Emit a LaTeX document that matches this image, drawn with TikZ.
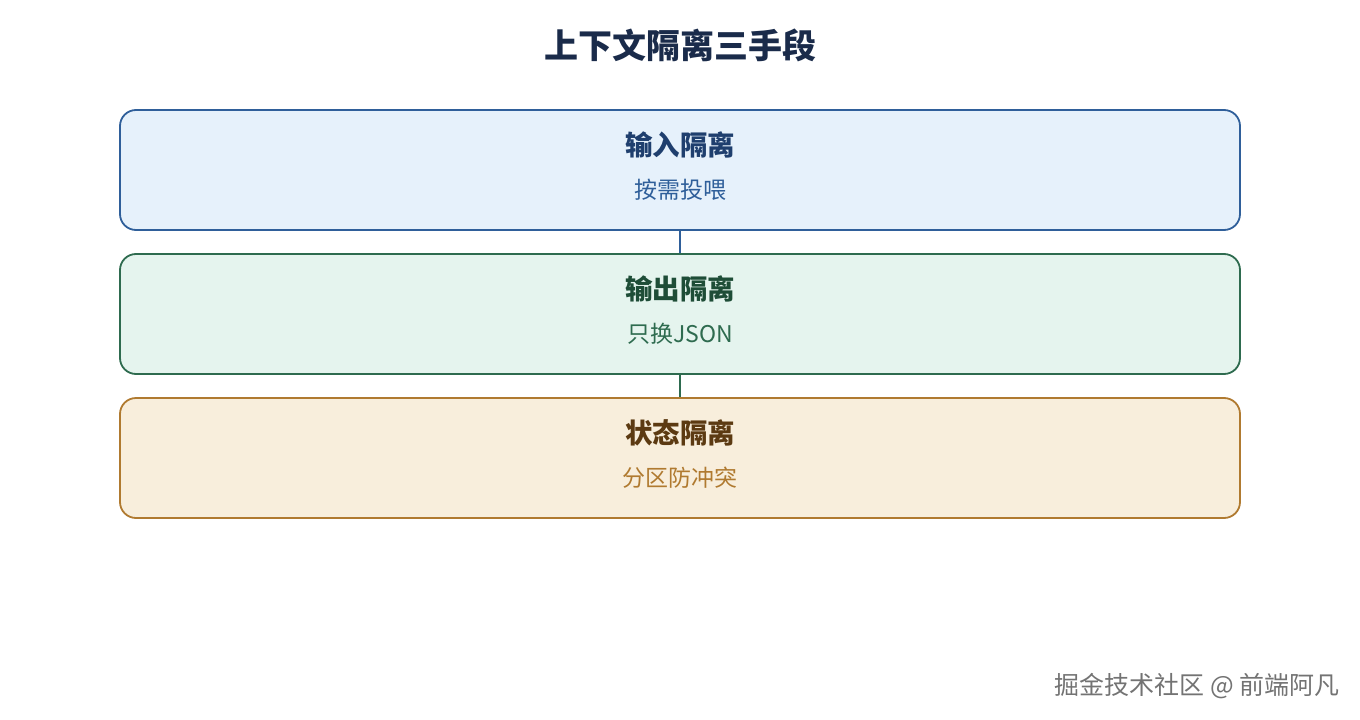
\documentclass[tikz,border=0pt]{standalone}
\usepackage{fontspec}
\setmainfont{Noto Sans CJK SC}
\definecolor{bgA}{HTML}{E6F1FB}\definecolor{bdA}{HTML}{2F5F9A}\definecolor{tA}{HTML}{1F3F6E}\definecolor{sA}{HTML}{2F5F9A}
\definecolor{bgB}{HTML}{E5F4EE}\definecolor{bdB}{HTML}{2E6B4F}\definecolor{tB}{HTML}{1E4D37}\definecolor{sB}{HTML}{2E6B4F}
\definecolor{bgC}{HTML}{F8EEDC}\definecolor{bdC}{HTML}{B07A30}\definecolor{tC}{HTML}{5C3A12}\definecolor{sC}{HTML}{B07A30}
\definecolor{titlec}{HTML}{1A2B4A}
\tikzset{
  card/.style={draw, line width=1.8pt, rounded corners=16pt, minimum width=1120pt, minimum height=120pt, inner sep=0pt},
  cardtitle/.style={font=\fontsize{27.5}{31}\selectfont\bfseries, inner sep=0pt},
  cardsub/.style={font=\fontsize{23}{27}\selectfont, inner sep=0pt},
  link/.style={line width=1.8pt}
}
\begin{document}
\begin{tikzpicture}[x=1pt,y=-1pt]
\useasboundingbox (0,0) rectangle (1360,720);
\node[font=\fontsize{34}{38}\selectfont\bfseries, text=titlec, inner sep=0pt] (title) at (680,45) {上下文隔离三手段};
\node[card, draw=bdA, fill=bgA] (a) at (680,170) {};
\node[card, draw=bdB, fill=bgB] (b) at (680,314) {};
\node[card, draw=bdC, fill=bgC] (c) at (680,458) {};
\draw[link, bdA] (a.south) -- (b.north);
\draw[link, bdB] (b.south) -- (c.north);
\node[cardtitle, text=tA] (at) at (680,145) {输入隔离};
\node[cardsub, text=sA] (as) at (680,190) {按需投喂};
\node[cardtitle, text=tB] (bt) at (680,289) {输出隔离};
\node[cardsub, text=sB] (bs) at (680,334) {只换JSON};
\node[cardtitle, text=tC] (ct) at (680,433) {状态隔离};
\node[cardsub, text=sC] (cs) at (680,478) {分区防冲突};
\node[font=\fontsize{25}{28}\selectfont, text=black!55, anchor=east, inner sep=0pt] (wm) at (1340,686) {掘金技术社区 @ 前端阿凡};
\end{tikzpicture}
\end{document}
